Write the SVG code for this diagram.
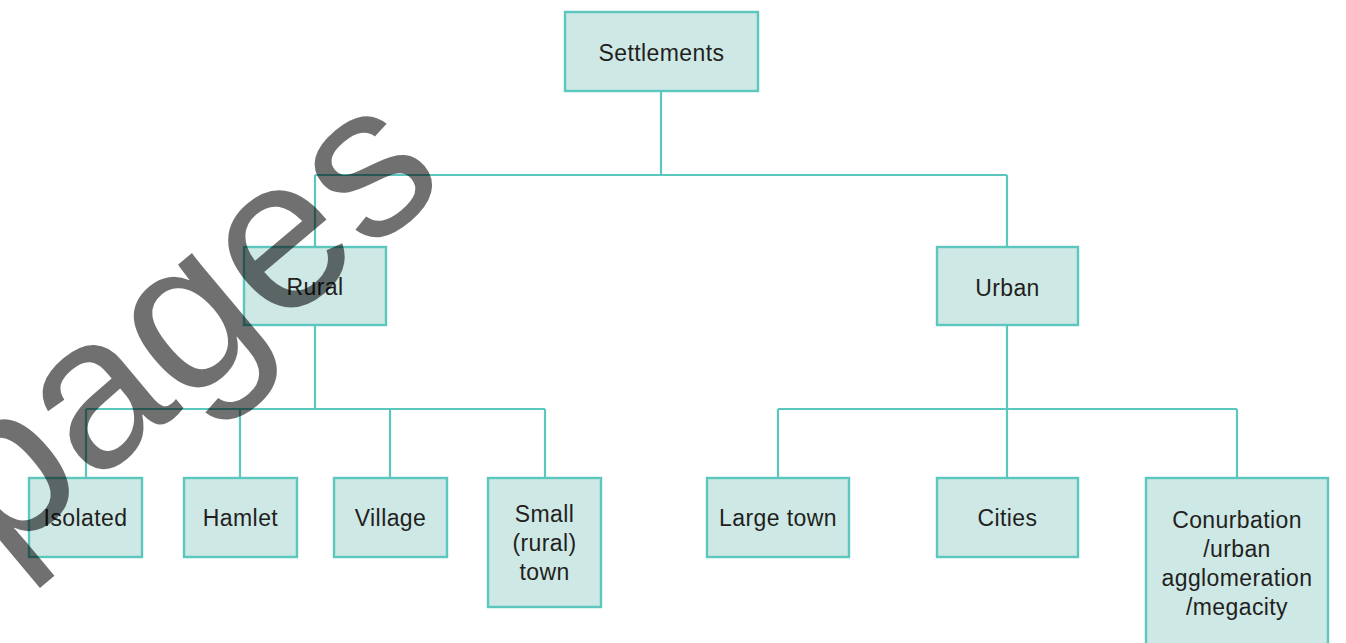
<svg xmlns="http://www.w3.org/2000/svg" width="1346" height="643" viewBox="0 0 1346 643">
  <style>
    .box { fill: #cee8e6; stroke: #5cc7bd; stroke-width: 2.4; }
    .lbl { font-family: "Liberation Sans", Arial, sans-serif; font-size: 23px; letter-spacing: 0.4px; fill: #231f20; text-anchor: middle; }
    .wire { fill: none; stroke: #5cc7bd; stroke-width: 2.2; }
    .mark { font-family: "Liberation Sans", Arial, sans-serif; font-size: 216px; fill: #000; fill-opacity: 0.56; }
  </style>
  <rect width="1346" height="643" fill="#fff"/>

  <!-- tree connectors -->
  <g id="connectors">
    <path class="wire" d="M661 91 V175 M315 175 H1007 M315 175 V247 M1007 175 V247"/>
    <path class="wire" d="M315 326 V409 M86 409 H545 M86 409 V478 M240 409 V478 M390 409 V478 M545 409 V478"/>
    <path class="wire" d="M1007 326 V409 M778 409 H1237 M778 409 V478 M1007 409 V478 M1237 409 V478"/>
  </g>

  <g id="settlements">
    <rect class="box" x="565" y="12" width="193" height="79"/>
    <text class="lbl" x="661.5" y="61">Settlements</text>
  </g>
  <g id="rural">
    <rect class="box" x="244" y="247" width="142" height="78"/>
    <text class="lbl" x="315" y="295">Rural</text>
  </g>
  <g id="urban">
    <rect class="box" x="937" y="247" width="141" height="78"/>
    <text class="lbl" x="1007.5" y="295.5">Urban</text>
  </g>
  <g id="isolated">
    <rect class="box" x="29" y="478" width="113" height="79"/>
    <text class="lbl" x="85.5" y="526">Isolated</text>
  </g>
  <g id="hamlet">
    <rect class="box" x="184" y="478" width="113" height="79"/>
    <text class="lbl" x="240.5" y="526">Hamlet</text>
  </g>
  <g id="village">
    <rect class="box" x="334" y="478" width="113" height="79"/>
    <text class="lbl" x="390.5" y="526">Village</text>
  </g>
  <g id="small-town">
    <rect class="box" x="488" y="478" width="113" height="129"/>
    <text class="lbl" x="544.5" y="522">Small</text>
    <text class="lbl" x="544.5" y="551">(rural)</text>
    <text class="lbl" x="544.5" y="580">town</text>
  </g>
  <g id="large-town">
    <rect class="box" x="707" y="478" width="142" height="79"/>
    <text class="lbl" x="778" y="526">Large town</text>
  </g>
  <g id="cities">
    <rect class="box" x="937" y="478" width="141" height="79"/>
    <text class="lbl" x="1007.5" y="526">Cities</text>
  </g>
  <g id="conurbation">
    <rect class="box" x="1146" y="478" width="182" height="172"/>
    <text class="lbl" x="1237" y="528">Conurbation</text>
    <text class="lbl" x="1237" y="557">/urban</text>
    <text class="lbl" x="1237" y="586">agglomeration</text>
    <text class="lbl" x="1237" y="615">/megacity</text>
  </g>

  <!-- diagonal stamp across the left branch -->
  <text class="mark" transform="translate(0 563) rotate(-40)">pages</text>
</svg>
